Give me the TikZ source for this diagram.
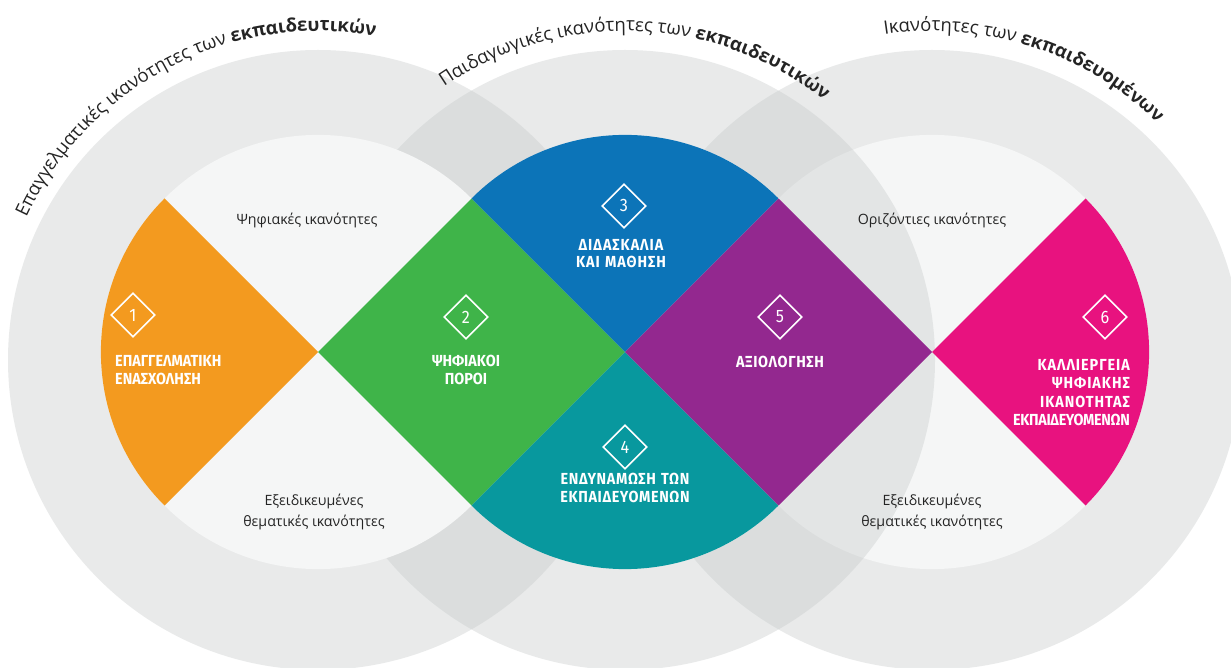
\documentclass[tikz,border=0pt]{standalone}
\usepackage{fontspec}
\setmainfont{Open Sans}
\newfontfamily\capsfont{Fira Sans}[FakeStretch=0.9]
\usepackage{tikz}
\usetikzlibrary{shapes.geometric,decorations.text}
\definecolor{dgorange}{HTML}{F39A1F}
\definecolor{dgvert}{HTML}{3FB449}
\definecolor{dgbleu}{HTML}{0C74B8}
\definecolor{dgteal}{HTML}{08989E}
\definecolor{dgviolet}{HTML}{93288F}
\definecolor{dgrose}{HTML}{E8127F}
\definecolor{dgring}{HTML}{C6CACA}
\definecolor{dgpale}{HTML}{F5F6F6}
\definecolor{dgdark}{HTML}{242424}

\begin{document}
\begin{tikzpicture}[x=1pt,y=1pt,
  every node/.style={inner sep=0pt},
  ring/.style={fill=dgring,fill opacity=0.38},
  core/.style={fill=dgpale},
  badge/.style={diamond,aspect=1,draw=white,line width=1.6pt,minimum size=44pt,
    text=white,font=\capsfont\fontsize{18}{18}\selectfont},
  bloc/.style={text=white,font=\capsfont\bfseries\fontsize{16}{17.5}\selectfont},
  mention/.style={text=dgdark,align=center,font=\fontsize{14.2}{21}\selectfont},
  arctitle/.style={decorate,decoration={text along path,text align=center,text color=dgdark}}]
  \useasboundingbox (0,0) rectangle (1231,667);
  \clip (0,0) rectangle (1231,667);
  \fill[white] (0,0) rectangle (1231,667);
  % Cercles : droite, milieu, gauche (le suivant recouvre le precedent)
  \fill[ring] (932,307) circle (310);
  \fill[core] (932,315) circle (217.1);
  \fill[ring] (625,307) circle (310);
  \fill[core] (625,315) circle (217.1);
  \fill[ring] (318,307) circle (310);
  \fill[core] (318,315) circle (217.1);
  % Losange 1 (coupe par le cercle gauche)
  \begin{scope}
    \clip (318,315) circle (217.1);
    \fill[dgorange] (164.5,468.5) -- (318,315) -- (164.5,161.5) -- (11,315) -- cycle;
  \end{scope}
  % Losange 2
  \fill[dgvert] (471.5,468.5) -- (625,315) -- (471.5,161.5) -- (318,315) -- cycle;
  % Losanges 3 et 4 (coupes par le cercle du milieu)
  \begin{scope}
    \clip (625,315) circle (217.1);
    \fill[dgbleu] (625,622) -- (778.5,468.5) -- (625,315) -- (471.5,468.5) -- cycle;
    \fill[dgteal] (625,315) -- (778.5,161.5) -- (625,8) -- (471.5,161.5) -- cycle;
  \end{scope}
  % Losange 5
  \fill[dgviolet] (778.5,468.5) -- (932,315) -- (778.5,161.5) -- (625,315) -- cycle;
  % Losange 6 (coupe par le cercle droit)
  \begin{scope}
    \clip (932,315) circle (217.1);
    \fill[dgrose] (1085.5,468.5) -- (1239,315) -- (1085.5,161.5) -- (932,315) -- cycle;
  \end{scope}
  % Titres courbes
  \path[arctitle,decoration={text={|\fontsize{18.5}{18}\selectfont|Επαγγελματικές ικανότητες των |\fontsize{18.5}{18}\selectfont\bfseries|εκπαιδευτικών}}]
    (318,315) ++(175:321) arc[start angle=175,end angle=60,radius=321];
  \path[arctitle,decoration={text={|\fontsize{18.5}{18}\selectfont|Παιδαγωγικές ικανότητες των |\fontsize{18.5}{18}\selectfont\bfseries|εκπαιδευτικών}}]
    (625,315) ++(144:321) arc[start angle=144,end angle=32,radius=321];
  \path[arctitle,decoration={text={|\fontsize{18.5}{18}\selectfont|Ικανότητες των |\fontsize{18.5}{18}\selectfont\bfseries|εκπαιδευομένων}}]
    (932,315) ++(120:321) arc[start angle=120,end angle=24,radius=321];
  % Numeros
  \node[badge] (b1) at (133,352) {1};
  \node[badge] (b2) at (466,350) {2};
  \node[badge] (b3) at (624,461) {3};
  \node[badge] (b4) at (625,220) {4};
  \node[badge] (b5) at (780,350) {5};
  \node[badge] (b6) at (1105,350) {6};
  % Intitules
  \node[bloc,text width=130pt,align=left,anchor=west] (l1) at (115,297) {ΕΠΑΓΓΕΛΜΑΤΙΚΗ\\ΕΝΑΣΧΟΛΗΣΗ};
  \node[bloc,text width=110pt,align=center] (l2) at (466,297) {ΨΗΦΙΑΚΟΙ\\ΠΟΡΟΙ};
  \node[bloc,text width=130pt,align=center,font=\capsfont\bfseries\fontsize{16}{17.5}\selectfont\addfontfeatures{LetterSpace=6}] (l3) at (621,413.5) {ΔΙΔΑΣΚΑΛΙΑ\\ΚΑΙ ΜΑΘΗΣΗ};
  \node[bloc,text width=160pt,align=center,font=\capsfont\bfseries\fontsize{16}{18}\selectfont\addfontfeatures{LetterSpace=4}] (l4) at (625,179) {ΕΝΔΥΝΑΜΩΣΗ ΤΩΝ\\ΕΚΠΑΙΔΕΥΟΜΕΝΩΝ};
  \node[bloc,text width=120pt,align=center,font=\capsfont\bfseries\fontsize{16}{17.5}\selectfont\addfontfeatures{LetterSpace=4}] (l5) at (780,305) {ΑΞΙΟΛΟΓΗΣΗ};
  \node[bloc,text width=150pt,align=right,anchor=east,font=\capsfont\bfseries\fontsize{16}{18.3}\selectfont\addfontfeatures{LetterSpace=6}] (l6) at (1130,274.5)
    {ΚΑΛΛΙΕΡΓΕΙΑ\\ΨΗΦΙΑΚΗΣ\\ΙΚΑΝΟΤΗΤΑΣ\\{\addfontfeatures{LetterSpace=-2}ΕΚΠΑΙΔΕΥΟΜΕΝΩΝ}};
  % Ikanotites
  \node[mention] (n1) at (307,447) {Ψηφιακές ικανότητες};
  \node[mention] (n2) at (314,155.5) {Εξειδικευμένες\\θεματικές ικανότητες};
  \node[mention] (n3) at (932,447) {Οριζόντιες ικανότητες};
  \node[mention] (n4) at (932,155.5) {Εξειδικευμένες\\θεματικές ικανότητες};
\end{tikzpicture}
\end{document}
